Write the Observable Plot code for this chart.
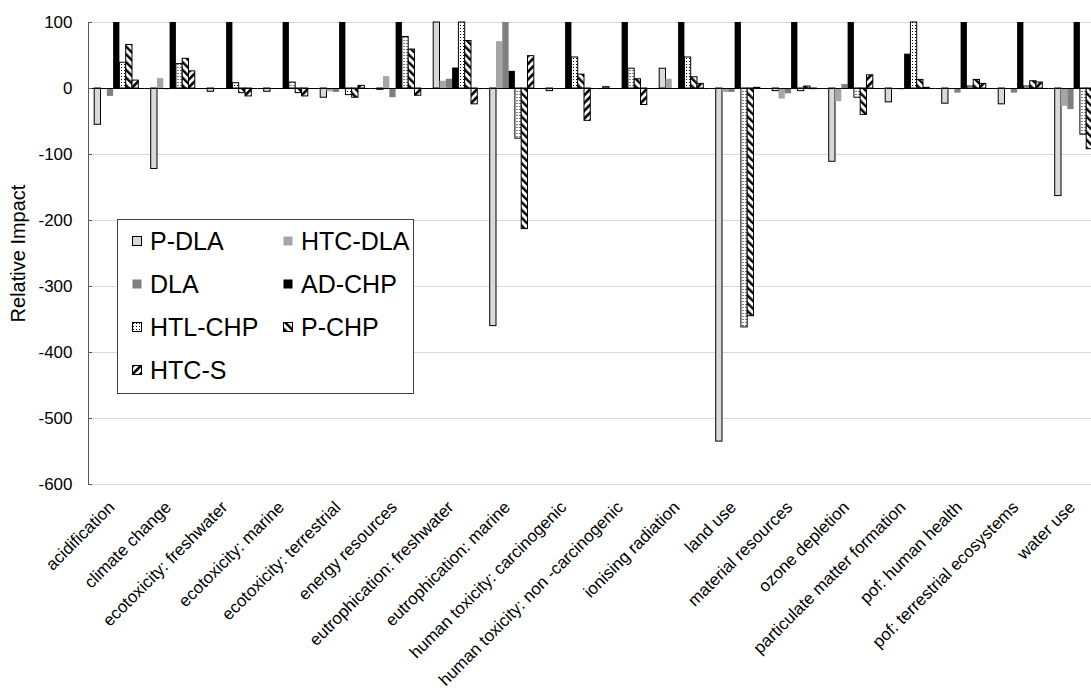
<!DOCTYPE html>
<html>
<head>
<meta charset="utf-8">
<script src="https://cdn.jsdelivr.net/npm/d3@7"></script>
<script src="https://cdn.jsdelivr.net/npm/@observablehq/plot@0.6"></script>
<style>
  html, body { margin: 0; padding: 0; overflow: hidden; background: #fff; }
  #wrap { position: relative; width: 1105px; height: 688px; font-family: "Liberation Sans", Arial, sans-serif; }
  #legend { position: absolute; left: 117px; top: 219px; width: 297px; height: 175px; border: 1px solid #404040; background: #fff; box-sizing: border-box; }
  .item { position: absolute; height: 43px; line-height: 43px; font-size: 25px; color: #000; white-space: nowrap; }
  .item svg { vertical-align: middle; margin-right: 8px; position: relative; top: -2px; }
</style>
</head>
<body>
<svg width="0" height="0" style="position:absolute">
  <defs>
    <pattern id="pDots" patternUnits="userSpaceOnUse" width="3" height="3">
      <rect width="3" height="3" fill="#fff"/>
      <rect x="1" y="1" width="1" height="1" fill="#000"/>
    </pattern>
    <pattern id="pDown" patternUnits="userSpaceOnUse" width="5.5" height="5.5" patternTransform="rotate(-45)">
      <rect width="5.5" height="5.5" fill="#fff"/>
      <rect width="2.4" height="5.5" fill="#000"/>
    </pattern>
    <pattern id="pUp" patternUnits="userSpaceOnUse" width="5.5" height="5.5" patternTransform="rotate(45)">
      <rect width="5.5" height="5.5" fill="#fff"/>
      <rect width="2.6" height="5.5" fill="#000"/>
    </pattern>
  </defs>
</svg>
<div id="wrap"><div id="legend"></div></div>
<script>
const categories = ["acidification", "climate change", "ecotoxicity: freshwater", "ecotoxicity: marine",
  "ecotoxicity: terrestrial", "energy resources", "eutrophication: freshwater", "eutrophication: marine",
  "human toxicity: carcinogenic", "human toxicity: non -carcinogenic", "ionising radiation", "land use",
  "material resources", "ozone depletion", "particulate matter formation", "pof: human health",
  "pof: terrestrial ecosystems", "water use"];
const seriesNames = ["P-DLA", "HTC-DLA", "DLA", "AD-CHP", "HTL-CHP", "P-CHP", "HTC-S"];
const pDLA   = [-55, -122, -5, -5, -14, -2, 100, -360, -4, 2, 30, -535, -4, -111, -21, -23, -24, -163];
const htcDLA = [0, 15, -1, -1, -5, 18, 11, 71, -1, -1, 14, -6, -16, -20, -1, 0, 0, -27];
const dla    = [-12, -2, -1, -1, -6, -14, 14, 100, 0, 0, -1, -6, -8, 6, -2, -7, -7, -32];
const adCHP  = [100, 100, 100, 100, 100, 100, 31, 26, 100, 100, 100, 100, 100, 100, 52, 100, 100, 100];
const htlCHP = [39, 37, 8, 9, -10, 78, 100, -76, 47, 30, 47, -362, -4, -14, 100, 3, 3, -70];
const pCHP   = [66, 45, -7, -7, -14, 59, 72, -213, 21, 14, 17, -345, 3, -40, 13, 13, 11, -92];
const htcS   = [12, 26, -12, -12, 4, -11, -24, 49, -49, -25, 7, 1, -1, 20, 1, 7, 9, 9];
const yTicks = [100, 0, -100, -200, -300, -400, -500, -600];

const seriesValues = [pDLA, htcDLA, dla, adCHP, htlCHP, pCHP, htcS];
const fills = {"P-DLA": "#d9d9d9", "HTC-DLA": "#a6a6a6", "DLA": "#7f7f7f", "AD-CHP": "#000000",
  "HTL-CHP": "url(#pDots)", "P-CHP": "url(#pDown)", "HTC-S": "url(#pUp)"};
const strokes = {"P-DLA": "#000", "HTC-DLA": "none", "DLA": "none", "AD-CHP": "none",
  "HTL-CHP": "#000", "P-CHP": "#000", "HTC-S": "#000"};

const data = [];
categories.forEach((c, i) => seriesNames.forEach((s, j) => data.push({category: c, series: s, value: seriesValues[j][i]})));

const chart = Plot.plot({
  width: 1105,
  height: 688,
  marginLeft: 88,
  marginRight: 0,
  marginTop: 22,
  marginBottom: 204,
  style: {fontFamily: "'Liberation Sans', Arial, sans-serif", fontSize: "17px", background: "transparent"},
  fx: {domain: categories, padding: 0, round: false, label: null},
  x: {domain: seriesNames, paddingInner: 0, paddingOuter: 0.985, round: false, axis: null},
  y: {domain: [-600, 100], label: null},
  color: {type: "identity"},
  marks: [
    Plot.ruleY(yTicks, {stroke: "#d9d9d9", strokeWidth: 1}),
    Plot.barY(data, {fx: "category", x: "series", y: "value",
      fill: d => fills[d.series], stroke: d => strokes[d.series], strokeWidth: 1}),
    Plot.ruleY([0], {stroke: "#000", strokeWidth: 1}),
    Plot.frame({anchor: "left", stroke: "#595959", facet: "super"}),
    Plot.axisY(yTicks, {tickSize: -4, tickPadding: 20, stroke: "#595959", fontSize: 17, label: null, tickFormat: d => `${d}`}),
    Plot.text(["Relative Impact"], {frameAnchor: "left", textAnchor: "middle", rotate: -90, dx: -70, fontSize: 20, facet: "super"}),
    Plot.axisFx({anchor: "bottom", tickRotate: -45, tickSize: 0, tickPadding: 20, dx: -5, fontSize: 17, label: null})
  ]
});
document.getElementById("wrap").prepend(chart);
chart.style.position = "absolute";
chart.style.left = "0";
chart.style.top = "0";

const legend = document.getElementById("legend");
const layout = [[0, 0], [1, 0], [0, 1], [1, 1], [0, 2], [1, 2], [0, 3]];
seriesNames.forEach((s, k) => {
  const [col, row] = layout[k];
  const div = document.createElement("div");
  div.className = "item";
  div.style.left = (col === 0 ? 14 : 165) + "px";
  div.style.top = (row * 43) + "px";
  const sw = strokes[s] === "none" ? "" : ` stroke="#000" stroke-width="1"`;
  div.innerHTML = `<svg width="10" height="10"><rect x="0.5" y="0.5" width="9" height="9" fill="${fills[s]}"${sw}/></svg>${s}`;
  legend.appendChild(div);
});
</script>
</body>
</html>
